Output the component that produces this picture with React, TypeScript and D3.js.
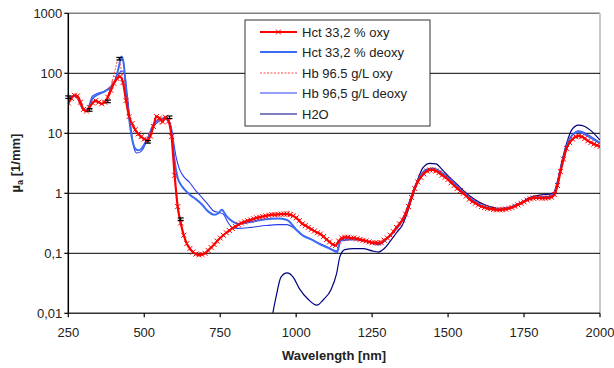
import React from 'react';
import * as d3 from 'd3';

// wavelength grid of the measured Hct oxy curve (10 nm steps)
const oxyNm = d3.range(250, 2001, 10);
const hctOxy = [
  32, 38, 43, 42, 33, 25, 23.5, 27, 32, 35, 33, 31, 33, 40, 52, 68, 82, 88, 70, 35,
  19, 14.5, 11.5, 9.8, 8.8, 8.0, 7.7, 9.0, 13, 19, 18, 15.5, 18.5, 16, 8.8, 2.0, 0.6, 0.32, 0.2, 0.145,
  0.12, 0.105, 0.097, 0.094, 0.096, 0.1, 0.112, 0.125, 0.14, 0.16, 0.18, 0.2, 0.22, 0.24, 0.26, 0.28, 0.3, 0.32, 0.335, 0.35,
  0.36, 0.375, 0.39, 0.4, 0.41, 0.42, 0.43, 0.44, 0.44, 0.445, 0.45, 0.45, 0.45, 0.44, 0.42, 0.39, 0.35, 0.31, 0.29, 0.27,
  0.25, 0.235, 0.22, 0.21, 0.19, 0.17, 0.155, 0.14, 0.135, 0.16, 0.18, 0.185, 0.185, 0.18, 0.18, 0.175, 0.17, 0.165, 0.16, 0.155,
  0.15, 0.15, 0.148, 0.15, 0.165, 0.18, 0.2, 0.23, 0.27, 0.31, 0.36, 0.45, 0.6, 0.85, 1.2, 1.55, 1.85, 2.1, 2.35, 2.45,
  2.45, 2.35, 2.2, 2.0, 1.85, 1.7, 1.5, 1.35, 1.2, 1.1, 1.0, 0.9, 0.8, 0.73, 0.68, 0.64, 0.6, 0.58, 0.56, 0.55,
  0.54, 0.53, 0.53, 0.535, 0.545, 0.56, 0.58, 0.61, 0.64, 0.68, 0.72, 0.77, 0.81, 0.83, 0.84, 0.84, 0.83, 0.83, 0.84, 0.86,
  0.95, 1.35, 2.3, 3.7, 5.6, 7.0, 8.0, 8.8, 9.0, 8.8, 8.2, 7.5, 7.0, 6.6, 6.3, 6.0,
];

const hctDeoxy: [number, number][] = [
  [250, 38], [270, 42], [280, 40], [300, 25], [310, 24], [330, 38], [350, 45], [370, 50], [390, 60], [405, 78],
  [415, 120], [425, 190], [432, 150], [440, 50], [450, 18], [460, 8], [470, 5.6], [480, 5.2], [490, 5.5], [500, 6.5],
  [515, 9], [530, 14], [550, 17], [565, 18], [580, 16], [590, 11], [600, 3.5], [610, 1.8], [620, 1.4], [630, 1.2],
  [650, 0.95], [670, 0.8], [690, 0.65], [710, 0.5], [730, 0.44], [745, 0.47], [755, 0.53], [770, 0.42], [790, 0.34],
  [810, 0.31], [830, 0.32], [860, 0.34], [900, 0.37], [940, 0.38], [970, 0.36], [1000, 0.25], [1020, 0.2], [1050, 0.17],
  [1080, 0.14], [1110, 0.12], [1135, 0.105], [1145, 0.16], [1160, 0.175], [1200, 0.17], [1250, 0.15], [1270, 0.14],
  [1300, 0.18], [1350, 0.36], [1380, 0.85], [1400, 1.6], [1430, 2.5], [1450, 2.6], [1500, 1.8], [1550, 1.05],
  [1600, 0.66], [1650, 0.55], [1700, 0.57], [1750, 0.73], [1780, 0.85], [1820, 0.85], [1850, 0.98], [1870, 2.4],
  [1890, 6.0], [1910, 9.5], [1930, 10.5], [1960, 9.0], [2000, 6.8],
];

const hbOxy: [number, number][] = [
  [250, 30], [270, 42], [300, 24], [310, 23], [330, 33], [350, 33], [370, 35], [390, 60], [405, 120], [415, 175],
  [425, 110], [440, 35], [450, 20], [470, 11], [500, 7.5], [510, 7.3], [530, 13], [540, 20], [555, 14], [565, 19],
  [578, 18], [590, 8], [600, 1.8], [610, 0.55], [620, 0.3], [650, 0.12], [680, 0.092], [700, 0.098], [750, 0.18],
  [800, 0.28], [850, 0.36], [900, 0.42], [950, 0.46], [975, 0.5], [990, 0.47], [1010, 0.36], [1050, 0.26],
  [1100, 0.175], [1130, 0.14], [1150, 0.18], [1200, 0.18], [1250, 0.155], [1300, 0.18], [1350, 0.37], [1400, 1.6],
  [1450, 2.5], [1500, 1.75], [1550, 1.02], [1600, 0.65], [1650, 0.54], [1700, 0.57], [1750, 0.73], [1800, 0.85],
  [1840, 0.87], [1870, 2.3], [1900, 7], [1930, 9.2], [1960, 7.7], [2000, 6.1],
];

const hbDeoxy: [number, number][] = [
  [250, 38], [270, 43], [300, 25], [310, 24], [330, 42], [350, 47], [370, 50], [390, 58], [410, 80], [425, 110],
  [435, 100], [445, 40], [455, 14], [465, 6], [475, 4.7], [490, 5], [500, 6], [515, 9], [530, 13], [550, 16],
  [565, 17.5], [580, 17], [595, 8], [605, 4], [615, 2.6], [630, 1.9], [650, 1.5], [670, 1.1], [690, 0.85],
  [710, 0.65], [730, 0.5], [745, 0.48], [760, 0.45], [775, 0.33], [790, 0.27], [810, 0.26], [850, 0.27], [900, 0.29],
  [940, 0.3], [970, 0.3], [990, 0.27], [1010, 0.22], [1050, 0.17], [1100, 0.13], [1135, 0.11], [1145, 0.16],
  [1200, 0.17], [1270, 0.145], [1300, 0.18], [1350, 0.37], [1400, 1.65], [1450, 2.6], [1500, 1.85], [1550, 1.05],
  [1600, 0.66], [1650, 0.55], [1700, 0.58], [1750, 0.74], [1800, 0.87], [1845, 0.9], [1870, 2.5], [1900, 8],
  [1930, 11], [1960, 9.5], [2000, 7],
];

const water: [number, number][] = [
  [923, 0.01], [935, 0.02], [950, 0.04], [970, 0.047], [990, 0.04], [1010, 0.026], [1040, 0.017], [1068, 0.0137],
  [1090, 0.017], [1115, 0.025], [1133, 0.046], [1144, 0.088], [1160, 0.115], [1190, 0.12], [1220, 0.12],
  [1250, 0.11], [1270, 0.105], [1290, 0.12], [1310, 0.16], [1330, 0.22], [1350, 0.3], [1370, 0.55], [1385, 1.0],
  [1400, 1.7], [1418, 2.7], [1440, 3.15], [1460, 3.1], [1480, 2.5], [1500, 1.95], [1530, 1.4], [1560, 1.0],
  [1600, 0.72], [1637, 0.6], [1670, 0.55], [1700, 0.58], [1740, 0.7], [1770, 0.86], [1800, 0.93], [1846, 1.0],
  [1860, 1.6], [1875, 3.5], [1890, 6.8], [1907, 11.4], [1929, 13.7], [1950, 13], [1967, 11.4], [2000, 7.7],
];

// error bars on the Hct oxy measurement
const errNm = [250, 320, 380, 418, 512, 583, 620];
const errVal = [40, 24.5, 34, 175, 7.2, 18.5, 0.37];

const xTicks = [250, 500, 750, 1000, 1250, 1500, 1750, 2000];
const yTicks = [0.01, 0.1, 1, 10, 100, 1000];
const yTickLabels = ['0,01', '0,1', '1', '10', '100', '1000'];

const legendNames = ['Hct 33,2 % oxy', 'Hct 33,2 % deoxy', 'Hb 96.5 g/L oxy', 'Hb 96,5 g/L deoxy', 'H2O'];

const RED = '#ff0000';
const BLUE = '#3a6cf4';
const BLUE2 = '#2a3cf0';
const NAVY = '#000080';
const FONT = 'Arial, "Liberation Sans", sans-serif';

export default function App() {
  const x = d3.scaleLinear().domain([250, 2000]).range([68.3, 600]);
  const y = d3.scaleLog().domain([0.01, 1000]).range([313.3, 13.3]);

  const line = d3.line<[number, number]>()
    .x(d => x(d[0]))
    .y(d => y(d[1]))
    .curve(d3.curveMonotoneX);

  const oxyPts: [number, number][] = oxyNm.map((n, i) => [n, hctOxy[i]]);

  const left = x(250), right = x(2000), top = y(1000), bottom = y(0.01);

  const legendStyles = [
    { color: RED, width: 2, dash: undefined, marker: true },
    { color: BLUE, width: 2, dash: undefined, marker: false },
    { color: '#ff4444', width: 1, dash: '2,1.5', marker: false },
    { color: BLUE2, width: 1, dash: undefined, marker: false },
    { color: NAVY, width: 1, dash: undefined, marker: false },
  ];
  const legendY = [32, 52, 73, 93, 114];

  const cross = (cx: number, cy: number, k: string | number) => (
    <path key={k} d={`M${cx - 2.5},${cy - 2.5}L${cx + 2.5},${cy + 2.5}M${cx - 2.5},${cy + 2.5}L${cx + 2.5},${cy - 2.5}`}
      stroke={RED} strokeWidth={1} fill="none" />
  );

  return (
    <svg width={614} height={368} style={{ position: 'absolute', left: 0, top: 0, background: '#fff' }}
      fontFamily={FONT}>
      <defs>
        <clipPath id="plot">
          <rect x={left} y={top} width={right - left} height={bottom - top} />
        </clipPath>
      </defs>
      {/* plot frame */}
      <line x1={left} x2={right} y1={top} y2={top} stroke="#808080" strokeWidth={1.5} />
      <line x1={right} x2={right} y1={top} y2={bottom} stroke="#c8c8c8" strokeWidth={2} />
      {yTicks.slice(1, -1).map(t => (
        <line key={t} x1={left} x2={right} y1={y(t)} y2={y(t)} stroke="#000" strokeWidth={1} />
      ))}

      <g clipPath="url(#plot)" fill="none">
        <path d={line(water) || ''} stroke={NAVY} strokeWidth={1.2} />
        <path d={line(hbDeoxy) || ''} stroke={BLUE2} strokeWidth={1.1} />
        <path d={line(hctDeoxy) || ''} stroke={BLUE} strokeWidth={2} />
        <path d={line(hbOxy) || ''} stroke="#ff4444" strokeWidth={1} strokeDasharray="2,1.5" />
        <path d={line(oxyPts) || ''} stroke={RED} strokeWidth={2.2} />
        {oxyPts.map((d, i) => cross(x(d[0]), y(d[1]), i))}
      </g>

      {/* error bars */}
      {errNm.map((n, i) => {
        const cx = x(n);
        const y0 = y(errVal[i] * 1.05), y1 = y(errVal[i] / 1.05);
        return (
          <g key={'e' + i} stroke="#000" strokeWidth={1.2}>
            <line x1={cx} x2={cx} y1={y0} y2={y1} />
            <line x1={cx - 3} x2={cx + 3} y1={y0} y2={y0} />
            <line x1={cx - 3} x2={cx + 3} y1={y1} y2={y1} />
          </g>
        );
      })}

      {/* axes */}
      <line x1={left} x2={left} y1={top} y2={bottom + 0.5} stroke="#000" strokeWidth={1.5} />
      <line x1={left} x2={right} y1={bottom} y2={bottom} stroke="#333" strokeWidth={1.5} />
      {yTicks.map((t, i) => (
        <g key={'yt' + t}>
          <line x1={left - 4} x2={left} y1={y(t)} y2={y(t)} stroke="#000" strokeWidth={1.2} />
          <text x={left - 6} y={y(t) + 4.5} textAnchor="end" fontSize={13} fill="#222">{yTickLabels[i]}</text>
        </g>
      ))}
      {xTicks.map(t => (
        <g key={'xt' + t}>
          <line x1={x(t)} x2={x(t)} y1={bottom} y2={bottom + 4} stroke="#000" strokeWidth={1.2} />
          <text x={x(t)} y={bottom + 24} textAnchor="middle" fontSize={13} fill="#222">{t}</text>
        </g>
      ))}
      <text x={334} y={360} textAnchor="middle" fontSize={13} fontWeight="bold" fill="#222">Wavelength [nm]</text>
      <text transform={`translate(20,163) rotate(-90)`} textAnchor="middle" fontSize={13} fontWeight="bold" fill="#222">
        µ<tspan fontSize={9} dy={3}>a</tspan><tspan dy={-3}> [1/mm]</tspan>
      </text>

      {/* legend */}
      <rect x={245} y={20} width={185} height={106} fill="#fff" stroke="#333" strokeWidth={1} />
      {legendNames.map((name, i) => {
        const s = legendStyles[i];
        const ly = legendY[i];
        return (
          <g key={name}>
            <line x1={260} x2={297} y1={ly} y2={ly} stroke={s.color} strokeWidth={s.width} strokeDasharray={s.dash} />
            {s.marker && cross(278.5, ly, 'lm')}
            <text x={302} y={ly + 5} fontSize={13} fill="#222">{name}</text>
          </g>
        );
      })}
    </svg>
  );
}
